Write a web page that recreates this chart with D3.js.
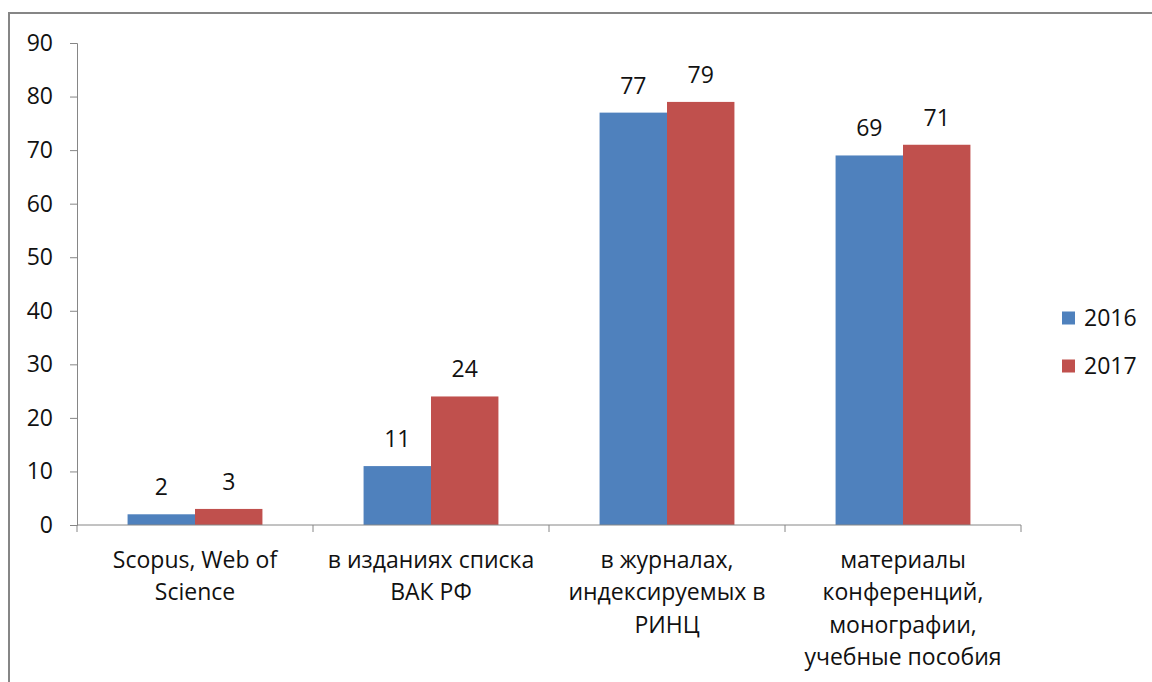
<!DOCTYPE html>
<html>
<head>
<meta charset="utf-8">
<script src="https://cdn.jsdelivr.net/npm/d3@7"></script>
<style>
  body { margin: 0; background: #fff; }
  svg text { font-family: "Open Sans", sans-serif; fill: #111; }
</style>
</head>
<body>
<div id="chart-area"></div>
<script>
const categories = [
    ["Scopus, Web of", "Science"],
    ["в изданиях списка", "ВАК РФ"],
    ["в журналах,", "индексируемых в", "РИНЦ"],
    ["материалы", "конференций,", "монографии,", "учебные пособия"]
];
const seriesNames = ["2016", "2017"];
const values2016 = [2, 11, 77, 69];
const values2017 = [3, 24, 79, 71];
const yTicks = [0, 10, 20, 30, 40, 50, 60, 70, 80, 90];
const colors = ["#4F81BD", "#C0504D"];

const chart = (function () {
    'use strict';

    const width = 1152, height = 682;
    const left = 77, right = 1021, top = 43, bottom = 525;
    const fontSize = 23;

    const svg = d3.select('#chart-area')
        .append('svg')
        .attr('width', width)
        .attr('height', height);

    // frame
    svg.append('rect')
        .attr('x', 9).attr('y', 13)
        .attr('width', 1200).attr('height', 700)
        .attr('fill', 'none')
        .attr('stroke', '#868686')
        .attr('stroke-width', 2);

    const idx = d3.range(categories.length);

    // X Scale
    const x = d3.scaleBand()
        .domain(idx)
        .range([left, right])
        .paddingInner(0)
        .paddingOuter(0);

    // gap width 150% -> outer padding 0.75 bar on each side
    const x1 = d3.scaleBand()
        .domain(d3.range(seriesNames.length))
        .range([0, x.bandwidth()])
        .paddingOuter(0.75)
        .paddingInner(0);

    // Y Scale
    const y = d3.scaleLinear()
        .domain([0, 90])
        .range([bottom, top]);

    // Y axis
    const yAxisGroup = svg.append('g')
        .attr('transform', 'translate(' + left + ',0)')
        .call(d3.axisLeft(y).tickValues(yTicks).tickSize(7).tickPadding(17).tickFormat(d3.format('d')));
    yAxisGroup.select('.domain').attr('stroke', '#868686');
    yAxisGroup.selectAll('.tick line').attr('stroke', '#868686');
    yAxisGroup.selectAll('text')
        .style('font-size', fontSize + 'px')
        .attr('fill', '#111');

    const series = [values2016, values2017];

    // bars
    series.forEach(function (vals, s) {
        svg.append('g').selectAll('rect')
            .data(vals)
            .join('rect')
            .attr('x', (d, i) => x(i) + x1(s))
            .attr('y', d => y(d))
            .attr('width', x1.bandwidth())
            .attr('height', d => y(0) - y(d))
            .attr('fill', colors[s]);

        svg.append('g').selectAll('text')
            .data(vals)
            .join('text')
            .attr('x', (d, i) => x(i) + x1(s) + x1.bandwidth() / 2)
            .attr('y', d => y(d) - 19)
            .attr('text-anchor', 'middle')
            .style('font-size', fontSize + 'px')
            .text(d => d);
    });

    // X axis
    const xAxisGroup = svg.append('g');
    xAxisGroup.append('line')
        .attr('x1', left).attr('x2', right)
        .attr('y1', bottom).attr('y2', bottom)
        .attr('stroke', '#868686');
    xAxisGroup.selectAll('line.tick')
        .data(d3.range(categories.length + 1))
        .join('line')
        .attr('class', 'tick')
        .attr('x1', d => left + d * x.bandwidth())
        .attr('x2', d => left + d * x.bandwidth())
        .attr('y1', bottom).attr('y2', bottom + 7)
        .attr('stroke', '#868686');

    xAxisGroup.selectAll('text')
        .data(categories)
        .join('text')
        .attr('text-anchor', 'middle')
        .style('font-size', fontSize + 'px')
        .each(function (lines, i) {
            d3.select(this).selectAll('tspan')
                .data(lines)
                .join('tspan')
                .attr('x', x(i) + x.bandwidth() / 2)
                .attr('y', (d, j) => 568 + j * 32.3)
                .text(d => d);
        });

    // legend
    const legend = svg.append('g')
        .selectAll('g')
        .data(seriesNames)
        .join('g')
        .attr('transform', (d, i) => 'translate(1062,' + (318 + i * 48) + ')');
    legend.append('rect')
        .attr('x', 0).attr('y', -6.5)
        .attr('width', 13).attr('height', 13)
        .attr('fill', (d, i) => colors[i]);
    legend.append('text')
        .attr('x', 22).attr('y', 8)
        .style('font-size', fontSize + 'px')
        .text(d => d);
})();
</script>
</body>
</html>
